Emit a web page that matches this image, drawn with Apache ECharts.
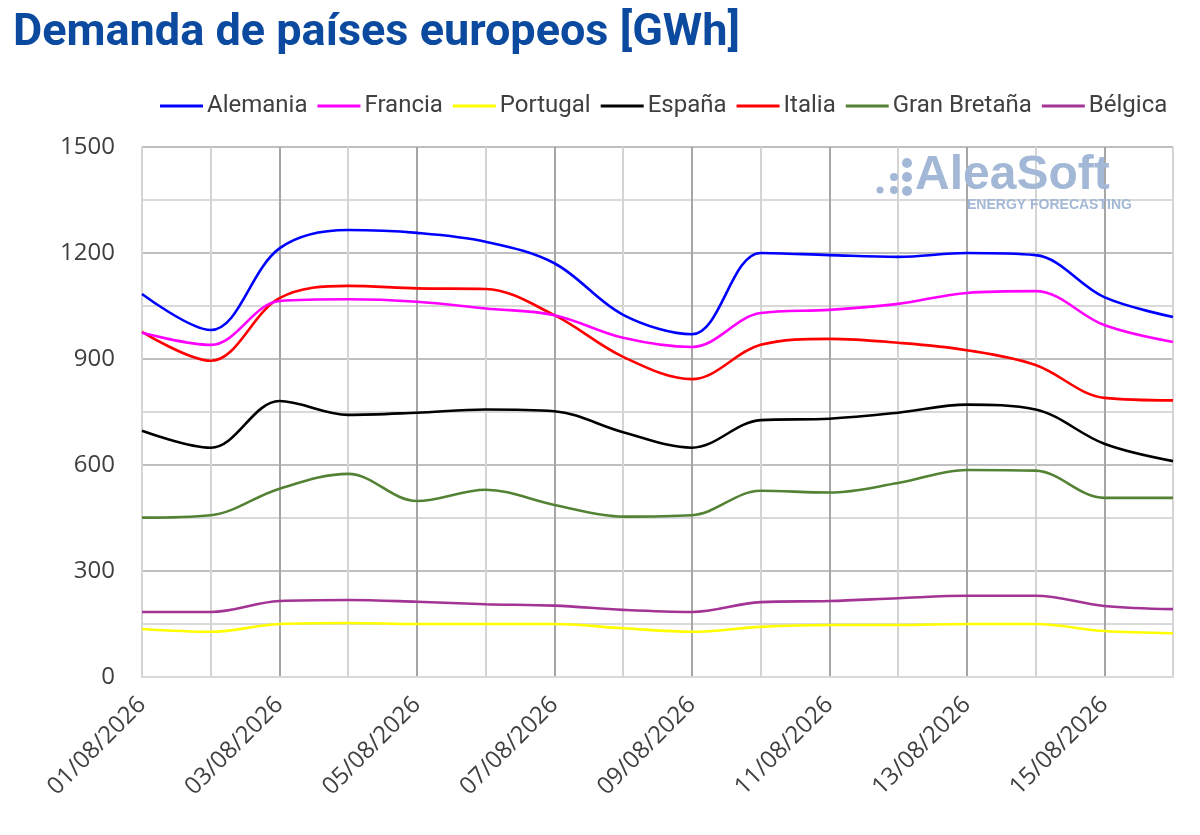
<!DOCTYPE html>
<html>
<head>
    <meta charset="utf-8">
    <title>Demanda de países europeos</title>
    <script src="https://cdn.jsdelivr.net/npm/echarts@6/dist/echarts.min.js"></script>
    <style>
        html, body { margin: 0; padding: 0; background: #fff; }
    </style>
</head>
<body>
    <div id="main" style="width:1200px;height:835px;"></div>
    <script type="text/javascript">
// dates on the x axis (one per day)
var dates = ['01/08/2026','02/08/2026','03/08/2026','04/08/2026','05/08/2026','06/08/2026',
             '07/08/2026','08/08/2026','09/08/2026','10/08/2026','11/08/2026','12/08/2026',
             '13/08/2026','14/08/2026','15/08/2026','16/08/2026'];

// daily demand, GWh
var alemania    = [1084, 982, 1213, 1265, 1257, 1232, 1171, 1025, 970, 1200, 1194, 1189, 1200, 1194, 1075, 1019];
var francia     = [974, 940, 1064, 1069, 1062, 1043, 1024, 960, 934, 1030, 1039, 1056, 1087, 1092, 996, 948];
var portugal    = [136, 128, 150, 153, 150, 150, 150, 138, 128, 142, 147, 147, 150, 150, 130, 124];
var espana      = [697, 649, 781, 742, 748, 757, 752, 693, 649, 727, 731, 748, 771, 757, 660, 611];
var italia      = [977, 895, 1072, 1107, 1100, 1098, 1024, 906, 843, 940, 957, 946, 925, 883, 790, 783];
var granBretana = [451, 458, 533, 575, 498, 530, 487, 454, 458, 527, 522, 549, 586, 584, 507, 507];
var belgica     = [184, 184, 215, 218, 213, 206, 202, 190, 184, 212, 215, 223, 230, 230, 201, 192];

var names  = ['Alemania','Francia','Portugal','España','Italia','Gran Bretaña','Bélgica'];
var values = [alemania, francia, portugal, espana, italia, granBretana, belgica];
var colors = ['#0000ff','#ff00ff','#ffff00','#000000','#ff0000','#548235','#a33394'];

var myChart = echarts.init(document.getElementById('main'));

var series = names.map(function (n, i) {
    return {
        name: n,
        type: 'line',
        data: values[i],
        smooth: 0.35,
        symbol: 'none',
        lineStyle: { width: 2.6, color: colors[i] },
        itemStyle: { color: colors[i] },
        z: 10 - i
    };
});

var wm = '#a3b8d6';
option = {
    animation: false,
    title: {
        text: 'Demanda de países europeos [GWh]',
        left: 8, top: 6,
        textStyle: { fontFamily: 'Roboto', fontWeight: 'bold', fontSize: 45, color: '#0b4a9e' }
    },
    legend: {
        data: names,
        left: 155, top: 89,
        icon: 'rect',
        itemWidth: 43, itemHeight: 3,
        itemGap: 10,
        textStyle: { fontFamily: 'Roboto', fontSize: 24, color: '#404040', padding: [0, 0, 0, -1] }
    },
    grid: { left: 142, right: 27, top: 147, bottom: 158, containLabel: false },
    xAxis: {
        type: 'category',
        data: dates,
        boundaryGap: false,
        axisLine: { lineStyle: { color: '#d9d9d9', width: 2 } },
        axisTick: { show: false },
        axisLabel: {
            interval: 1, rotate: 45, margin: 24,
            fontFamily: 'Open Sans', fontSize: 24, color: '#404040'
        },
        splitLine: {
            show: true, interval: 0,
            lineStyle: { color: ['#a6a6a6', '#d4d4d4'], width: 2 }
        }
    },
    yAxis: {
        type: 'value',
        min: 0, max: 1500, interval: 150,
        axisLine: { show: true, lineStyle: { color: '#d4d4d4', width: 2 } },
        axisTick: { show: false },
        axisLabel: {
            margin: 27,
            fontFamily: 'Open Sans', fontSize: 24, color: '#404040',
            formatter: function (v) { return v % 300 === 0 ? v : ''; }
        },
        splitLine: { lineStyle: { color: ['#bfbfbf', '#d9d9d9'], width: 2 } }
    },
    graphic: [
        { type: 'circle', shape: { cx: 907, cy: 163, r: 5 }, style: { fill: wm }, z: 1 },
        { type: 'circle', shape: { cx: 907, cy: 177, r: 5 }, style: { fill: wm }, z: 1 },
        { type: 'circle', shape: { cx: 907, cy: 191, r: 5 }, style: { fill: wm }, z: 1 },
        { type: 'circle', shape: { cx: 894, cy: 177, r: 4 }, style: { fill: wm }, z: 1 },
        { type: 'circle', shape: { cx: 894, cy: 190, r: 4 }, style: { fill: wm }, z: 1 },
        { type: 'circle', shape: { cx: 880, cy: 190, r: 3.5 }, style: { fill: wm }, z: 1 },
        { type: 'text', left: 915, top: 152,
          style: { text: 'AleaSoft', fill: wm, font: 'bold 48px "Liberation Sans"' }, z: 1 },
        { type: 'text', left: 967, top: 198,
          style: { text: 'ENERGY FORECASTING', fill: wm, font: 'bold 14px "Liberation Sans"' }, z: 1 }
    ],
    series: series
};

myChart.setOption(option);
    </script>
</body>
</html>
